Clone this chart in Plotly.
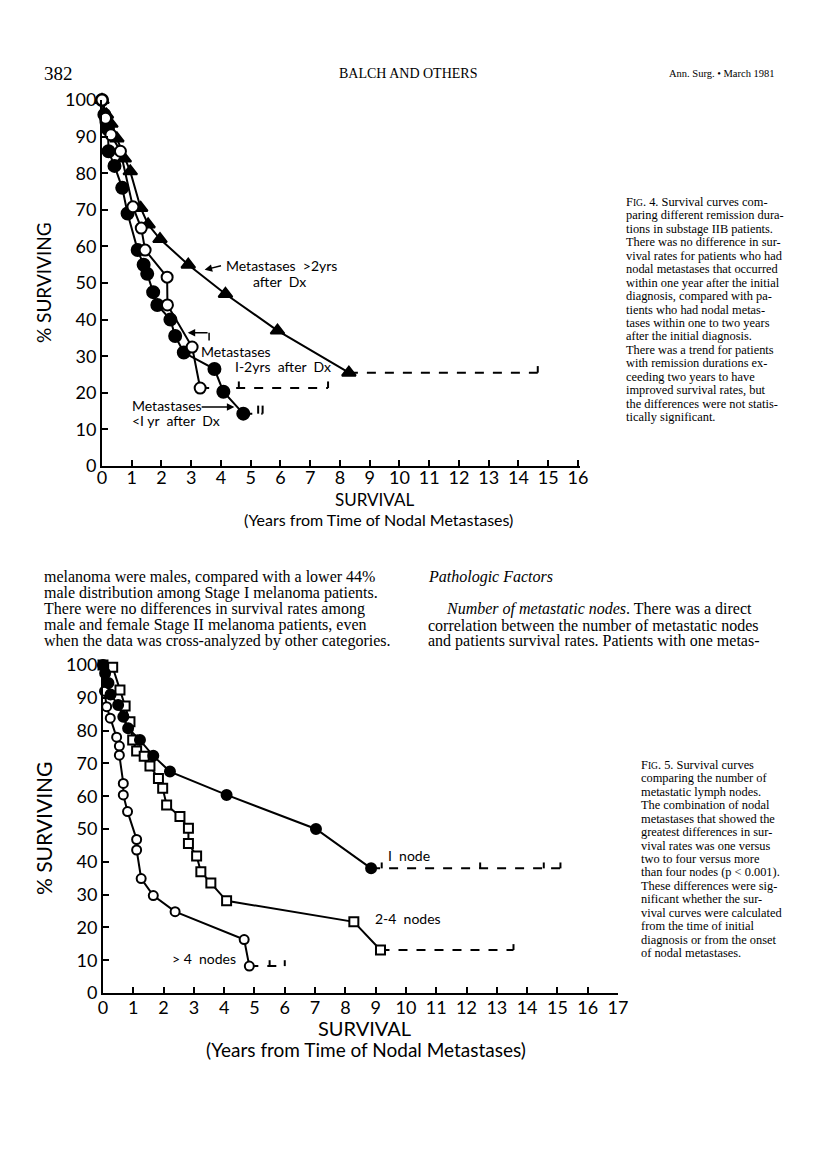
import plotly.graph_objects as go

# ---- Fig. 4 data (years, % surviving) ----
lt1_x = [0, 0.08, 0.15, 0.2, 0.22, 0.42, 0.68, 0.86, 1.2, 1.4, 1.52, 1.72, 1.86, 2.3, 2.46, 2.75, 3.78, 4.08, 4.75]
lt1_y = [100, 96, 94, 92, 86, 82, 76, 69, 59, 55, 52.5, 47.5, 44, 40, 35.5, 31, 26.5, 20.3, 14.3]
mid_x = [0, 0.12, 0.3, 0.62, 1.04, 1.32, 1.45, 2.19, 2.2, 3.03, 3.3]
mid_y = [100, 95, 90.5, 86, 70.8, 65, 59, 51.6, 44, 32.5, 21.3]
gt2_x = [0, 0.15, 0.3, 0.5, 0.75, 0.95, 1.3, 1.55, 1.95, 2.9, 4.15, 5.9, 8.3]
gt2_y = [100, 96, 93.5, 89.5, 84, 80.5, 70.5, 66, 62, 55, 47, 37, 25.5]
# censored follow-up (dashed tails) and tick marks
lt1_tail = [4.75, 5.4]
lt1_ticks = [5.25, 5.4]
mid_tail = [3.3, 7.6]
mid_ticks = [4.6, 7.6]
gt2_tail = [8.3, 14.65]
gt2_ticks = [14.65]

# ---- Fig. 5 data ----
n1_x = [0, 0.07, 0.18, 0.25, 0.5, 0.67, 0.83, 1.22, 1.66, 2.21, 4.08, 7.03, 8.85]
n1_y = [100, 97.5, 94.5, 91, 87.8, 84.2, 80.7, 77.1, 72.3, 67.5, 60.4, 50, 38]
n24_x = [0, 0.32, 0.56, 0.73, 0.89, 0.98, 1.11, 1.36, 1.55, 1.83, 1.97, 2.1, 2.54, 2.82, 2.82, 3.09, 3.23, 3.56, 4.08, 8.28, 9.16]
n24_y = [100, 99.3, 92.4, 87.5, 82.7, 77.1, 73.8, 72.2, 69.2, 65.4, 62.4, 57.3, 53.8, 50.2, 45.6, 41.8, 37, 33.5, 28.1, 21.7, 13.1]
n4_x = [0, 0.05, 0.12, 0.24, 0.45, 0.54, 0.54, 0.67, 0.67, 0.81, 1.11, 1.11, 1.26, 1.66, 2.38, 4.66, 4.83]
n4_y = [100, 92, 87.3, 83.8, 78, 75.3, 72.5, 63.9, 60.4, 55.3, 46.8, 43.6, 34.9, 29.7, 24.8, 16.3, 8.2]
n1_tail = [8.85, 15.1]
n1_ticks = [9.2, 12.45, 14.55, 15.1]
n24_tail = [9.16, 13.55]
n24_ticks = [13.55]
n4_tail = [4.83, 6.0]
n4_ticks = [5.5, 6.0]

W, H = 816, 1159
OFF = 8  # page body margin
def px(x):
    return (x - OFF) / W
def py(y):
    return 1 - (y - OFF) / H

LET = "Lato"
SERIF = "Liberation Serif"

fig = go.Figure()

def curve(x, y, symbol, fill, size, xa, ya):
    fig.add_trace(go.Scatter(x=x, y=y, mode="lines+markers", xaxis=xa, yaxis=ya,
                             line=dict(color="black", width=2),
                             marker=dict(symbol=symbol, size=size, color=fill,
                                         line=dict(color="black", width=2)),
                             showlegend=False, cliponaxis=False))

def tail(xs, yv, ticks, xa, ya, h):
    fig.add_trace(go.Scatter(x=xs, y=[yv, yv], mode="lines", xaxis=xa, yaxis=ya,
                             line=dict(color="black", width=2, dash="dash"),
                             showlegend=False))
    tx, ty = [], []
    for t in ticks:
        tx += [t, t, None]
        ty += [yv, yv + h, None]
    fig.add_trace(go.Scatter(x=tx, y=ty, mode="lines", xaxis=xa, yaxis=ya,
                             line=dict(color="black", width=2), showlegend=False))

# top chart
tail(lt1_tail, lt1_y[-1], lt1_ticks, "x", "y", 2.2)
tail(mid_tail, mid_y[-1], mid_ticks, "x", "y", 1.8)
tail(gt2_tail, gt2_y[-1], gt2_ticks, "x", "y", 1.8)
curve(gt2_x, gt2_y, "triangle-up", "black", 12, "x", "y")
curve(lt1_x, lt1_y, "circle", "black", 12, "x", "y")
curve(mid_x, mid_y, "circle", "white", 11, "x", "y")

# bottom chart
tail(n1_tail, n1_y[-1], n1_ticks, "x2", "y2", 1.8)
tail(n24_tail, n24_y[-1], n24_ticks, "x2", "y2", 1.8)
tail(n4_tail, n4_y[-1], n4_ticks, "x2", "y2", 1.8)
curve(n4_x, n4_y, "circle", "white", 9, "x2", "y2")
curve(n24_x, n24_y, "square", "white", 9, "x2", "y2")
curve(n1_x, n1_y, "circle", "black", 10, "x2", "y2")

axis_common = dict(showline=True, linecolor="black", linewidth=2, ticks="inside",
                   ticklen=6, tickwidth=2, tickcolor="black", showgrid=False,
                   zeroline=False, automargin=False,
                   tickfont=dict(family=LET, size=18, color="black"))

fig.update_layout(
    width=W, height=H, margin=dict(l=0, r=0, t=0, b=0),
    paper_bgcolor="white", plot_bgcolor="white",
    xaxis=dict(domain=[px(102), px(580)], range=[0, 16.07], dtick=1, anchor="y",
               ticklabelstandoff=-6, **axis_common),
    yaxis=dict(domain=[py(466), py(100)], range=[0, 100], dtick=10, anchor="x", **axis_common),
    xaxis2=dict(domain=[px(103), px(618)], range=[0, 17], dtick=1, anchor="y2",
                ticklabelstandoff=-3, **axis_common),
    yaxis2=dict(domain=[py(993), py(665)], range=[0, 100], dtick=10, anchor="x2", **axis_common),
)

ann = []
def ptext(x, y, text, size, family=LET, xanchor="center", angle=0, **kw):
    ann.append(dict(x=px(x), y=py(y), xref="paper", yref="paper", text=text,
                    showarrow=False, xanchor=xanchor, yanchor="middle", textangle=angle,
                    font=dict(family=family, size=size, color="black"), **kw))

def dtext(x, y, text, size, xa, ya, xanchor="left"):
    ann.append(dict(x=x, y=y, xref=xa, yref=ya, text=text, showarrow=False,
                    xanchor=xanchor, yanchor="middle", align="left",
                    font=dict(family=LET, size=size, color="black")))

def arrow(x, y, axv, ayv, xa, ya):
    ann.append(dict(x=x, y=y, ax=axv, ay=ayv, xref=xa, yref=ya, axref=xa, ayref=ya,
                    text="", showarrow=True, arrowhead=2, arrowsize=1, arrowwidth=1.5,
                    arrowcolor="black"))

# header
ptext(42, 73, "382", 19, SERIF, xanchor="left")
ptext(408, 73, "BALCH AND OTHERS", 14, SERIF)
ptext(777, 73, "Ann. Surg. • March 1981", 10.5, SERIF, xanchor="right")

# axis titles
ptext(43, 283, "% SURVIVING", 19, angle=-90)
ptext(374, 500, "SURVIVAL", 17)
ptext(378, 520, "(Years from Time of Nodal Metastases)", 16)
ptext(43, 829, "% SURVIVING", 21, angle=-90)
ptext(364, 1028, "SURVIVAL", 20)
ptext(366, 1049, "(Years from Time of Nodal Metastases)", 19)

# Fig 4 labels
dtext(4.1, 54.8, "Metastases  >2yrs", 14, "x", "y")
dtext(5.0, 50.5, "after  Dx", 14, "x", "y")
arrow(3.45, 53.6, 4.05, 54.8, "x", "y")
dtext(3.25, 31.3, "Metastases", 14, "x", "y")
dtext(4.4, 27.3, "I-2yrs  after  Dx", 14, "x", "y")
arrow(2.88, 36.4, 3.6, 36.4, "x", "y")
dtext(0.95, 16.4, "Metastases", 14, "x", "y")
dtext(0.95, 12.3, "<I yr  after  Dx", 14, "x", "y")
arrow(4.45, 16.1, 3.3, 16.1, "x", "y")

# Fig 5 labels
dtext(9.35, 42, "I  node", 14, "x2", "y2")
dtext(8.9, 22.6, "2-4  nodes", 14, "x2", "y2")
dtext(2.2, 10.6, "> 4  nodes", 14, "x2", "y2")

fig.update_layout(shapes=[
    dict(type="line", xref="x", yref="y", x0=3.6, x1=3.6, y0=36.4, y1=34.3,
         line=dict(color="black", width=1.5)),
])

# captions
cap4 = ["F<span style='font-size:9.5px'>IG</span>. 4. Survival curves com-",
        "paring different remission dura-",
        "tions in substage IIB patients.",
        "There was no difference in sur-",
        "vival rates for patients who had",
        "nodal metastases that occurred",
        "within one year after the initial",
        "diagnosis, compared with pa-",
        "tients who had nodal metas-",
        "tases within one to two years",
        "after the initial diagnosis.",
        "There was a trend for patients",
        "with remission durations ex-",
        "ceeding two years to have",
        "improved survival rates, but",
        "the differences were not statis-",
        "tically significant."]
for i, t in enumerate(cap4):
    ptext(624, 202 + i * 13.44, t, 12.4, SERIF, xanchor="left")

cap5 = ["F<span style='font-size:9.5px'>IG</span>. 5. Survival curves",
        "comparing the number of",
        "metastatic lymph nodes.",
        "The combination of nodal",
        "metastases that showed the",
        "greatest differences in sur-",
        "vival rates was one versus",
        "two to four versus more",
        "than four nodes (p < 0.001).",
        "These differences were sig-",
        "nificant whether the sur-",
        "vival curves were calculated",
        "from the time of initial",
        "diagnosis or from the onset",
        "of nodal metastases."]
for i, t in enumerate(cap5):
    ptext(639, 765 + i * 13.43, t, 12.4, SERIF, xanchor="left")

# body text
left_col = ["melanoma were males, compared with a lower 44%",
            "male distribution among Stage I melanoma patients.",
            "There were no differences in survival rates among",
            "male and female Stage II melanoma patients, even",
            "when the data was cross-analyzed by other categories."]
for i, t in enumerate(left_col):
    ptext(42, 577 + i * 16, t, 16, SERIF, xanchor="left")

right_col = [(577, 426, "<i>Pathologic Factors</i>"),
             (609, 444, "<i>Number of metastatic nodes</i>. There was a direct"),
             (625, 426, "correlation between the number of metastatic nodes"),
             (641, 426, "and patients survival rates. Patients with one metas-")]
for yy, xx, t in right_col:
    ptext(xx, yy, t, 16, SERIF, xanchor="left")

fig.update_layout(annotations=ann)
fig.write_html("out.html")
